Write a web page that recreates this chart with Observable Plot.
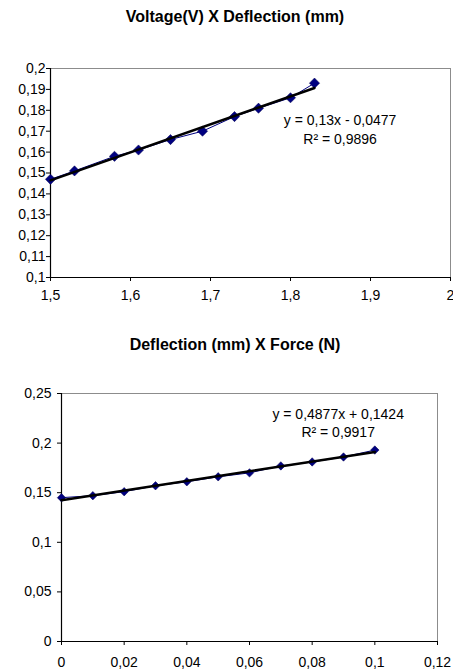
<!DOCTYPE html>
<html><head><meta charset="utf-8">
<script src="https://cdn.jsdelivr.net/npm/d3@7"></script>
<script src="https://cdn.jsdelivr.net/npm/@observablehq/plot@0.6"></script>
<style>
body{margin:0;background:#fff;font-family:"Liberation Sans",Arial,sans-serif;}
#wrap{position:relative;width:453px;height:670px;overflow:hidden;}
.title{position:absolute;left:0;width:470px;text-align:center;font-weight:bold;font-size:16px;line-height:18px;color:#000;}
.chart{position:absolute;left:0;}
</style></head><body>
<div id="wrap">
  <div class="title" id="t1" style="top:8px"></div>
  <div class="chart" id="c1" style="top:40px"></div>
  <div class="title" id="t2" style="top:336px"></div>
  <div class="chart" id="c2" style="top:360px"></div>
</div>
<script>
// ---- data ----
const title1 = "Voltage(V) X Deflection (mm)";
const voltage = [1.5, 1.53, 1.58, 1.61, 1.65, 1.69, 1.73, 1.76, 1.80, 1.83];
const deflectionV = [0.147, 0.151, 0.158, 0.161, 0.166, 0.170, 0.177, 0.181, 0.186, 0.193];
const xTicks1 = [1.5, 1.6, 1.7, 1.8, 1.9, 2];
const yTicks1 = [0.1, 0.11, 0.12, 0.13, 0.14, 0.15, 0.16, 0.17, 0.18, 0.19, 0.2];
const eq1 = ["y = 0,13x - 0,0477", "R² = 0,9896"];

const title2 = "Deflection (mm) X Force (N)";
const force = [0, 0.01, 0.02, 0.03, 0.04, 0.05, 0.06, 0.07, 0.08, 0.09, 0.1];
const deflectionF = [0.145, 0.147, 0.151, 0.157, 0.161, 0.166, 0.170, 0.177, 0.181, 0.186, 0.193];
const xTicks2 = [0, 0.02, 0.04, 0.06, 0.08, 0.1, 0.12];
const yTicks2 = [0, 0.05, 0.1, 0.15, 0.2, 0.25];
const eq2 = ["y = 0,4877x + 0,1424", "R² = 0,9917"];

const fmt = d => String(+d.toFixed(4)).replace(".", ",");
const navy = "#000080";

function chart({xs, ys, xTicks, yTicks, eq, eqX, eqY, height, margins, xPad, yPad, r, lh}) {
  const data = xs.map((x, i) => ({x, y: ys[i]}));
  const xd = [xTicks[0], xTicks[xTicks.length - 1]];
  const yd = [yTicks[0], yTicks[yTicks.length - 1]];
  return Plot.plot({
    width: 453, height,
    ...margins,
    style: {fontFamily: '"Liberation Sans", Arial, sans-serif', fontSize: "14px", color: "#000", background: "#fff", overflow: "visible"},
    x: {domain: xd, ticks: xTicks, tickFormat: fmt, tickSize: 4, tickPadding: xPad, label: null},
    y: {domain: yd, ticks: yTicks, tickFormat: fmt, tickSize: 4, tickPadding: yPad, label: null},
    marks: [
      Plot.ruleY([yd[1]], {stroke: "#8c8c8c", strokeWidth: 1}),
      Plot.ruleX([xd[1]], {stroke: "#8c8c8c", strokeWidth: 1}),
      Plot.ruleX([xd[0]], {stroke: "#000", strokeWidth: 1.2}),
      Plot.ruleY([yd[0]], {stroke: "#000", strokeWidth: 1.2}),
      Plot.line(data, {x: "x", y: "y", stroke: navy, strokeWidth: 1}),
      Plot.dot(data, {x: "x", y: "y", symbol: "diamond2", r, fill: navy, stroke: "#00004d", strokeWidth: 0.5}),
      Plot.linearRegressionY(data, {x: "x", y: "y", ci: 0, stroke: "#000", strokeWidth: 2.5}),
      Plot.text([eq.join("\n")], {x: eqX, y: eqY, text: d => d, textAnchor: "middle", lineAnchor: "middle", lineHeight: lh, fontSize: 14, fill: "#000"})
    ]
  });
}

document.getElementById("t1").textContent = title1;
document.getElementById("t2").textContent = title2;

document.getElementById("c1").append(chart({
  xs: voltage, ys: deflectionV, xTicks: xTicks1, yTicks: yTicks1, eq: eq1,
  eqX: 1.862, eqY: 0.1715, height: 270,
  margins: {marginTop: 28, marginBottom: 33, marginLeft: 50, marginRight: 3},
  xPad: 9, yPad: 1, r: 4.6, lh: 1.4
}));

document.getElementById("c2").append(chart({
  xs: force, ys: deflectionF, xTicks: xTicks2, yTicks: yTicks2, eq: eq2,
  eqX: 0.0883, eqY: 0.2212, height: 310,
  margins: {marginTop: 33, marginBottom: 29, marginLeft: 61, marginRight: 16},
  xPad: 12, yPad: 6, r: 3.8, lh: 1.3
}));
</script>
</body></html>
